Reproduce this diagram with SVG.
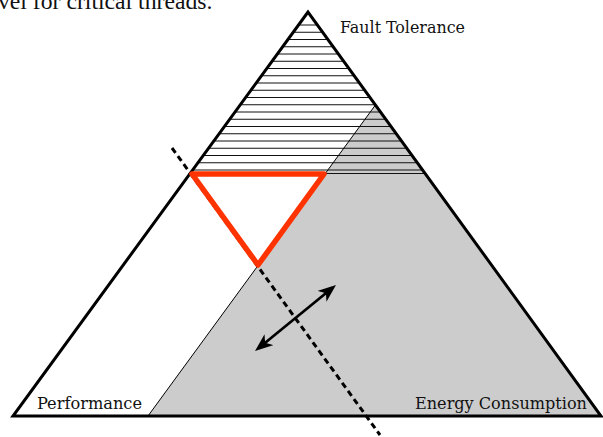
<svg xmlns="http://www.w3.org/2000/svg" width="603" height="437" viewBox="0 0 603 437">
<style>
.lbl{font-family:"DejaVu Serif","Liberation Serif",serif;font-size:17px;font-stretch:condensed;fill:#111}
.hatch line{stroke:#111;stroke-width:1}
</style>
<defs>
<clipPath id="hatchClip"><polygon points="308,12 189,174 426,174"/></clipPath>
<marker id="ah" markerUnits="userSpaceOnUse" markerWidth="18" markerHeight="14" refX="8" refY="7" orient="auto-start-reverse" viewBox="0 0 18 14">
<path d="M0,0 L18,7 L0,14 L5,7 Z" fill="#000"/>
</marker>
</defs>
<rect width="603" height="437" fill="#fff"/>
<text x="-2" y="9" font-family="Liberation Serif,serif" font-size="23.7" fill="#111">vel for critical threads.</text>
<g id="energy-region">
<polygon points="148,416 375.4,105 601,416" fill="#ccc"/>
</g>
<g id="fault-hatch" class="hatch" clip-path="url(#hatchClip)">
<line x1="180" y1="25" x2="440" y2="25"/>
<line x1="180" y1="32.25" x2="440" y2="32.25"/>
<line x1="180" y1="39.5" x2="440" y2="39.5"/>
<line x1="180" y1="46.75" x2="440" y2="46.75"/>
<line x1="180" y1="54" x2="440" y2="54"/>
<line x1="180" y1="61.25" x2="440" y2="61.25"/>
<line x1="180" y1="68.5" x2="440" y2="68.5"/>
<line x1="180" y1="75.75" x2="440" y2="75.75"/>
<line x1="180" y1="83" x2="440" y2="83"/>
<line x1="180" y1="90.25" x2="440" y2="90.25"/>
<line x1="180" y1="97.5" x2="440" y2="97.5"/>
<line x1="180" y1="104.75" x2="440" y2="104.75"/>
<line x1="180" y1="112" x2="440" y2="112"/>
<line x1="180" y1="119.25" x2="440" y2="119.25"/>
<line x1="180" y1="126.5" x2="440" y2="126.5"/>
<line x1="180" y1="133.75" x2="440" y2="133.75"/>
<line x1="180" y1="141" x2="440" y2="141"/>
<line x1="180" y1="148.25" x2="440" y2="148.25"/>
<line x1="180" y1="155.5" x2="440" y2="155.5"/>
<line x1="180" y1="162.75" x2="440" y2="162.75"/>
<line x1="180" y1="170" x2="440" y2="170"/>
<line x1="324" y1="173.5" x2="440" y2="173.5"/>
</g>
<g id="energy-boundary">
<line x1="148" y1="416" x2="375.4" y2="105" stroke="#000" stroke-width="1"/>
</g>
<g id="triangle">
<polygon points="308,12 13,416 601,416" fill="none" stroke="#000" stroke-width="3" stroke-linejoin="miter"/>
</g>
<g id="connectors">
<line x1="172" y1="148" x2="380" y2="435" stroke="#000" stroke-width="3" stroke-dasharray="6 4"/>
<line x1="262.75" y1="344.7" x2="328.25" y2="291.3" stroke="#000" stroke-width="2.7" marker-start="url(#ah)" marker-end="url(#ah)"/>
</g>
<g id="red-triangle">
<polygon points="192,174 324,174 258,265" fill="none" stroke="#ff3300" stroke-width="5.5" stroke-linejoin="round"/>
</g>
<g id="label-fault"><text class="lbl" x="340" y="33" textLength="125" lengthAdjust="spacingAndGlyphs">Fault Tolerance</text></g>
<g id="label-performance"><text class="lbl" x="37" y="408.5" textLength="105" lengthAdjust="spacingAndGlyphs">Performance</text></g>
<g id="label-energy"><text class="lbl" x="415" y="408.5" textLength="172" lengthAdjust="spacingAndGlyphs">Energy Consumption</text></g>
</svg>
